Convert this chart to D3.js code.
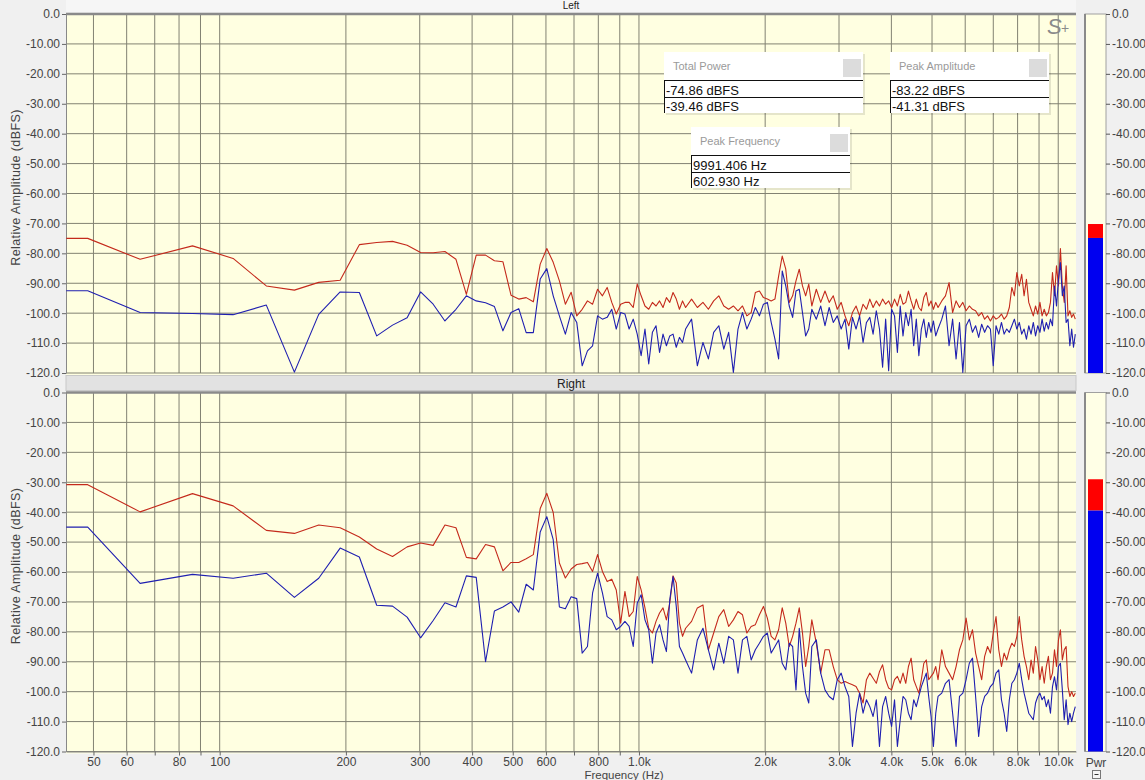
<!DOCTYPE html>
<html>
<head>
<meta charset="utf-8">
<script src="https://cdn.jsdelivr.net/npm/d3@7"></script>
<style>
  body { margin: 0; background: #f0f0f0; }
  svg text { font-family: Arial, "Liberation Sans", sans-serif; }
</style>
</head>
<body>
<div id="chart"></div>
<script>
var width = 1145, height = 780;
var BIN_HZ = 22050 / 1024;

// FFT bins that are drawn (every bin at the low end, thinned out higher up)
var bins = [2, 2.25].concat(d3.range(3, 61), d3.range(62, 121, 2), d3.range(123, 241, 3), d3.range(245, 511, 5));

// dBFS per bin
var leftRed = [
  -75, -75, -82, -77.5, -81.7, -90.9, -92.3, -89.7, -89, -77.1, -76.4, -76, -77.3, -79.7, -79.8, -79.4, -82,
  -93.7, -80.6, -80.6, -82.5, -82.8, -94, -95.3, -94.8, -96.2, -83.6, -78.4, -83, -89.2, -97, -93, -100.9,
  -98.7, -95.9, -97, -92, -94.2, -91.4, -96.4, -100.3, -97, -96.4, -96.4, -98.1, -90.3, -94.2, -97.6, -98.7,
  -96.4, -97.6, -95.9, -98.1, -94.8, -96.4, -93.1, -95.3, -98.7, -95.9, -98.1,
  -95.3, -98.1, -96.4, -98.7, -95.9, -94.2, -97.6, -98.7, -97.6, -99.2, -97.6, -100.9, -99.8, -93.1, -92.6,
  -94.8, -95.3, -95.9, -95.3, -87.6, -80.9, -85.3, -96.4, -94.2, -89.2, -85.3, -90.9, -94.2, -90.3, -97.6,
  -92, -96.4, -92.6, -96.4, -94.2, -98.7, -96.4, -100.9, -104.2, -99.8, -97.6, -100.9, -97, -98.7, -95.3,
  -98.1, -95.9, -97.6, -95.3, -97, -95.9, -98.1, -95.3, -97.6, -93.7, -97, -96.4, -92.6, -95.9, -98.7, -95.3,
  -98.1, -99.2, -94.8, -93.1, -97.6, -95.9, -98.7, -96.4, -98.1,
  -95.9, -94.2, -89.8, -99.8, -95.9, -98.1, -96.4, -99.2, -97.6, -98.7, -99.2, -100.9, -99.8, -102, -100.9,
  -102.6, -100.9, -102, -101.4, -100.3, -102, -100.9, -98.1, -91.4, -94.2, -86.4, -90.9, -87, -94.2, -88.7,
  -96.4, -98.7, -100.9, -97.6, -100.3, -96.4, -100.9, -98.7, -100.9, -99.8, -96.4, -86.4, -94.2, -84.2, -90.9,
  -78.4, -90.9, -96.4, -84.2, -100.9, -99.2, -101.4, -100.3, -102
];
var leftBlue = [
  -92.5, -92.5, -99.8, -100.1, -100.5, -97.3, -119.7, -100.4, -92.9, -93.1, -107.6, -104, -101.5, -92.9, -97,
  -102.6, -98.7, -94.2, -95.9, -96.5, -97.8, -105.9, -99.8, -98.5, -106.5, -106.5, -88.6, -85.1, -94.2, -100.9,
  -107, -99.8, -103.1,
  -117.6, -112.6, -110.9, -100.9, -102, -101.4, -98.7, -105.3, -99.8, -100.3, -105.3, -102, -107, -114.2,
  -105.3, -117, -106.4, -104.2, -113.1, -107, -110.9, -107.6, -107, -111.4, -108.1, -109.8, -105.3,
  -102, -117.6, -109.8, -115.3, -106.4, -104.2, -112, -106.4, -119.8, -105.3, -99.8, -105.3, -102, -98.1,
  -100.9, -97, -96.4, -103.1, -108.7, -115.3, -85.9, -90.9, -97.6, -101.4, -92.6, -92, -99.8, -107.6, -105.3, -98.7,
  -102, -97.6, -104.2, -98.1, -103.1, -100.9, -105.3, -102, -112, -101.4, -105.3, -100.9, -109.8, -103.1,
  -101.4, -107, -99.2, -105.3, -118.1, -102, -119.2, -98.7, -100.9, -113.1, -97.6, -107.6, -99.8, -104.2,
  -98.7, -110.9, -102, -114.2, -105.3, -102, -108.1, -103.1, -106.4, -102.6, -107.6, -105.3,
  -102, -97.6, -110.9, -102, -115.3, -103.1, -119.8, -104.2, -102, -106.4, -104.2, -108.1, -103.7, -106.4,
  -104.2, -105.3, -117.6, -104.2, -107, -103.1, -107, -105.3, -106.4, -104.2, -102, -105.3, -103.1, -107,
  -105.3, -108.7, -104.2, -107, -103.1, -107.6, -104.2, -106.4, -102, -106, -103.1, -105.3, -102, -104.2,
  -90.9, -97.6, -88.7, -83.1, -94.2, -90.9, -103.1, -102, -110.9, -105.3, -111.4, -107
];
var rightRed = [
  -30.8, -30.8, -39.9, -33.8, -37.9, -46.1, -47.1, -44.3, -45.2, -48.3, -52.3, -54.8, -51.6, -50.3, -51.1,
  -44.3, -45.2, -55.1, -55.6, -50.8, -51.6, -59.6, -56.8, -56.8, -55.6, -54.2, -38.8, -33.7, -40.1, -57,
  -62, -59, -57.5,
  -57.2, -56.8, -59.8, -54.2, -59.8, -63.2, -62.4, -66, -77.1, -66.5, -74.9, -73.2, -61.5, -66, -72, -78.8,
  -80.4, -76.5, -73.7, -72, -76, -70.4, -61.3, -63.7, -77.1, -81.5, -78.8,
  -76.5, -72, -71, -86, -80.4, -74.9, -72.6, -78.2, -76, -73.2, -74.3, -80.4, -78.2, -77.6, -74.3, -71.5,
  -75.4, -81.5, -82.7, -79.3, -72, -77.1, -84.9, -81.5, -77.1, -72, -80.4, -91.6, -84.9, -76,
  -83.8, -93.8, -86, -86, -91.6, -96, -97.2, -96.6, -97.2, -97.7, -98.3, -100.5, -103.8, -96, -93.8, -95.5,
  -97.2, -93.3, -91, -96, -98.8, -99.4, -96, -94.9, -97.2, -93.8, -97.2, -91.6, -88.8, -96, -98.3, -100.5,
  -96, -90.5, -89.4, -96, -94.9, -93.8, -91.6, -96,
  -86, -91.6, -93.8, -96, -91.6, -86, -82.7, -75.4, -82.7, -79.3, -87.1, -91.6, -96, -88.2, -84.9, -87.1,
  -80.4, -74.9, -86, -91.6, -87.1, -89.4, -86, -83.8, -84.9, -81.5, -74.9, -82.7, -88.2, -91.6, -96, -89.4,
  -93.8, -84.9, -89.4, -96, -91.6, -97.2, -91.6, -88.2, -96, -93.8, -86, -91.6, -82.7, -79.3, -89.4, -86,
  -84.9, -98.3, -101.6, -100, -101.6, -100.5
];
var rightBlue = [
  -45, -45, -63.8, -60.8, -62.1, -60.4, -68.5, -62.1, -52, -55, -71.1, -71.4, -75.1, -82, -76.2, -70.3, -71.7,
  -61.3, -61.8, -90, -73, -71.7, -70, -73.4, -64.1, -66, -46.6, -41.5, -49.2, -71.7, -72.3, -68.3, -68.9,
  -87.1, -84.9, -67, -60.4, -67, -74.9, -76, -79.3, -78.2, -76.5, -78.2, -84.9, -70.4, -67.6, -76, -79.3,
  -90.5, -80.4, -77.6, -82.7, -86.6, -69.3, -61.5, -71.5, -84.9, -87.1, -89.4,
  -93.8, -82.7, -78.8, -86, -92.7, -83.8, -90.5, -81.5, -82.7, -93.8, -82.7, -81.5, -89.4, -86, -83.8, -81.5,
  -80.4, -87.1, -84.9, -82.7, -90.5, -92.7, -83.8, -84.9, -99.4, -78.8, -91.6, -100.5, -103.8, -84.9,
  -82.7, -93.8, -99.4, -101.6, -102.7, -96, -93.8, -98.3, -101.6, -118.3, -107.2, -100.5, -107.2, -102.7,
  -105, -108.3, -102.7, -118.3, -105, -101.6, -107.2, -111.6, -102.7, -118.3, -109.4, -101.6, -102.7, -107.2,
  -109.4, -102.7, -105, -101.6, -98.3, -96, -93.8, -101.6, -108.3, -118.3, -107.2, -101.6,
  -100.5, -97.2, -96, -107.2, -118.3, -101.6, -100.5, -96, -90.5, -88.8, -101.6, -115, -105, -101.6, -100.5,
  -98.3, -97.2, -93.8, -92.7, -102.7, -107.2, -113.3, -102.7, -97.2, -96, -93.8, -90.5, -96, -100.5, -103.8,
  -107.2, -108.3, -109.4, -103.8, -101.6, -100.5, -102.7, -101.6, -105, -102.7, -107.2, -98.3, -95, -99.4,
  -91.6, -90.5, -99.4, -109.4, -102.7, -111, -107.2, -110, -107.2, -105
];

var dbTicks = d3.range(0, -121, -10);
var freqTicks = [50, 60, 70, 80, 90, 100, 200, 300, 400, 500, 600, 700, 800, 900,
                 1000, 2000, 3000, 4000, 5000, 6000, 7000, 8000, 9000, 10000];
var unlabeled = [70, 90, 700, 900, 7000, 9000];

var meterPeak = [-70.2, -29.0];
var meterPower = [-74.86, -39.46];

var statTitles = ["Total Power", "Peak Amplitude", "Peak Frequency"];
var statLeft = ["-74.86 dBFS", "-83.22 dBFS", "9991.406 Hz"];
var statRight = ["-39.46 dBFS", "-41.31 dBFS", "602.930 Hz"];

var svg = d3.select("#chart").append("svg")
    .attr("width", width)
    .attr("height", height)
    .style("display", "block");

svg.append("rect").attr("width", width).attr("height", height).attr("fill", "#f0f0f0");

var plotLeft = 66, plotRight = 1076;
var x = d3.scaleLog().domain([43, 11025]).range([plotLeft, plotRight]);

var fmtDb = function(v) {
    if (v === 0) return "0.0";
    return Math.abs(v) >= 100 ? v.toFixed(1) : v.toFixed(2);
};

var panels = [
    {name: "Left", top: 14, bottom: 373, red: leftRed, blue: leftBlue},
    {name: "Right", top: 392.5, bottom: 751.5, red: rightRed, blue: rightBlue}
];

// top title strip (mostly scrolled away)
svg.append("rect").attr("x", plotLeft).attr("y", 0).attr("width", plotRight - plotLeft).attr("height", 12)
    .attr("fill", "#f6f6f6");
svg.append("text").attr("x", 571).attr("y", 8.5).attr("text-anchor", "middle")
    .attr("font-size", 10).attr("fill", "#222").text("Left");

panels.forEach(function(p, pi) {
    var y = d3.scaleLinear().domain([0, -120]).range([p.top, p.bottom]);
    var g = svg.append("g");

    g.append("rect")
        .attr("x", plotLeft).attr("y", p.top)
        .attr("width", plotRight - plotLeft).attr("height", p.bottom - p.top + 2)
        .attr("fill", "#ffffe1");

    // grid
    g.selectAll(".vgrid").data(freqTicks).enter().append("line")
        .attr("x1", function(d){ return x(d); }).attr("x2", function(d){ return x(d); })
        .attr("y1", p.top).attr("y2", p.bottom)
        .attr("stroke", "#828272").attr("stroke-width", 1);
    g.selectAll(".hgrid").data(dbTicks).enter().append("line")
        .attr("x1", plotLeft).attr("x2", plotRight)
        .attr("y1", function(d){ return y(d); }).attr("y2", function(d){ return y(d); })
        .attr("stroke", "#828272").attr("stroke-width", 1);

    // top border
    g.append("line").attr("x1", plotLeft).attr("x2", plotRight)
        .attr("y1", p.top).attr("y2", p.top)
        .attr("stroke", "#8a8a8a").attr("stroke-width", 2.5);

    // y axis
    var yAxis = g.append("g")
        .attr("transform", "translate(" + plotLeft + ",0)")
        .call(d3.axisLeft(y).tickValues(dbTicks).tickFormat(fmtDb).tickSize(4).tickPadding(2).tickSizeOuter(0));
    yAxis.select(".domain").attr("stroke", "#888");
    yAxis.selectAll(".tick line").attr("stroke", "#666");
    yAxis.selectAll("text").attr("font-size", 12).attr("fill", "#444")
        .attr("font-family", "Arial, 'Liberation Sans', sans-serif");

    g.append("text")
        .attr("transform", "translate(20," + ((p.top + p.bottom) / 2 - 6) + ") rotate(-90)")
        .attr("text-anchor", "middle").attr("font-size", 12.5).attr("fill", "#444")
        .attr("letter-spacing", 0.4)
        .text("Relative Amplitude (dBFS)");

    // spectrum lines
    var clipId = "clip" + pi;
    svg.append("clipPath").attr("id", clipId).append("rect")
        .attr("x", plotLeft).attr("y", p.top).attr("width", plotRight - plotLeft).attr("height", p.bottom - p.top);
    var line = d3.line()
        .x(function(d){ return x(d.f); })
        .y(function(d){ return y(d.v); });
    [[p.red, "#c42a1c"], [p.blue, "#1f1fb0"]].forEach(function(s) {
        var pts = bins.map(function(b, i){ return {f: b * BIN_HZ, v: s[0][i]}; });
        g.append("path").datum(pts)
            .attr("clip-path", "url(#" + clipId + ")")
            .attr("d", line)
            .attr("fill", "none")
            .attr("stroke", s[1])
            .attr("stroke-width", 1.1)
            .attr("stroke-linejoin", "round");
    });

    // power meter
    var mx = 1085, mw = 21;
    g.append("rect").attr("x", mx).attr("y", p.top).attr("width", mw).attr("height", p.bottom - p.top)
        .attr("fill", "#ffffe6").attr("stroke", "#a0a0a0").attr("stroke-width", 1);
    g.append("line").attr("x1", mx).attr("x2", mx).attr("y1", p.top).attr("y2", p.bottom)
        .attr("stroke", "#8a8a8a").attr("stroke-width", 2);
    g.append("rect").attr("x", mx + 3).attr("y", y(meterPeak[pi]))
        .attr("width", mw - 6).attr("height", y(meterPower[pi]) - y(meterPeak[pi]))
        .attr("fill", "#ff0000");
    g.append("rect").attr("x", mx + 3).attr("y", y(meterPower[pi]))
        .attr("width", mw - 6).attr("height", p.bottom - y(meterPower[pi]))
        .attr("fill", "#0000f0");
    var meterAxis = g.append("g")
        .attr("transform", "translate(" + (mx + mw) + ",0)")
        .call(d3.axisRight(y).tickValues(dbTicks).tickFormat(fmtDb).tickSize(4).tickPadding(2));
    meterAxis.select(".domain").remove();
    meterAxis.selectAll(".tick line").attr("stroke", "#555");
    meterAxis.selectAll("text").attr("font-size", 12).attr("fill", "#444")
        .attr("font-family", "Arial, 'Liberation Sans', sans-serif");

    if (pi === 1) {
        // channel title bar between panels
        var bar = svg.append("g");
        bar.append("rect").attr("x", plotLeft).attr("y", 375.5).attr("width", plotRight - plotLeft).attr("height", 15)
            .attr("fill", "#e2e2e2").attr("stroke", "#c8c8c8");
        bar.append("text").attr("x", 571).attr("y", 387.5).attr("text-anchor", "middle")
            .attr("font-size", 12).attr("fill", "#222").text(p.name);

        var xAxis = g.append("g")
            .attr("transform", "translate(0," + p.bottom + ")")
            .call(d3.axisBottom(x).tickValues(freqTicks).tickSize(4).tickPadding(2).tickSizeOuter(0)
                .tickFormat(function(d){
                    if (unlabeled.indexOf(d) >= 0) return "";
                    return d >= 1000 ? (d / 1000).toFixed(1) + "k" : d;
                }));
        xAxis.select(".domain").attr("stroke", "#888");
        xAxis.selectAll(".tick line").attr("stroke", "#666");
        xAxis.selectAll("text").attr("font-size", 12).attr("fill", "#444")
            .attr("font-family", "Arial, 'Liberation Sans', sans-serif");

        svg.append("text").attr("x", 624).attr("y", 778.5).attr("text-anchor", "middle")
            .attr("font-size", 11.5).attr("fill", "#444").text("Frequency (Hz)");
        svg.append("text").attr("x", 1096).attr("y", 767).attr("text-anchor", "middle")
            .attr("font-size", 12).attr("fill", "#444").text("Pwr");
        svg.append("rect").attr("x", 1092.5).attr("y", 770.5).attr("width", 8).attr("height", 8)
            .attr("fill", "#f4f4f4").attr("stroke", "#777");
        svg.append("line").attr("x1", 1094.5).attr("x2", 1098.5).attr("y1", 774.5).attr("y2", 774.5)
            .attr("stroke", "#333");
    }
});

// S+ mark
svg.append("text").attr("x", 1047).attr("y", 34).attr("font-family", "'Liberation Serif', 'DejaVu Serif', serif")
    .attr("font-style", "italic").attr("font-size", 22).attr("fill", "#8a8a8a").text("S");
svg.append("text").attr("x", 1061).attr("y", 33).attr("font-family", "'Liberation Serif', 'DejaVu Serif', serif")
    .attr("font-size", 14).attr("fill", "#8a8a8a").text("+");

// statistics boxes
var boxes = [
    {x: 664, y: 52, w: 199},
    {x: 890, y: 52, w: 159},
    {x: 691, y: 127, w: 159}
];
boxes.forEach(function(b, i) {
    var g = svg.append("g").attr("transform", "translate(" + b.x + "," + b.y + ")");
    g.append("rect").attr("x", 2).attr("y", 2).attr("width", b.w).attr("height", 61).attr("fill", "rgba(0,0,0,0.10)");
    g.append("rect").attr("width", b.w).attr("height", 61).attr("fill", "#ffffff");
    g.append("text").attr("x", 9).attr("y", 18).attr("font-size", 11).attr("fill", "#9a9a9a").text(statTitles[i]);
    g.append("rect").attr("x", b.w - 20).attr("y", 7).attr("width", 18).attr("height", 18).attr("fill", "#dcdcdc");
    g.append("line").attr("x1", 0).attr("x2", b.w).attr("y1", 28.5).attr("y2", 28.5).attr("stroke", "#111");
    g.append("line").attr("x1", 0).attr("x2", b.w).attr("y1", 45.5).attr("y2", 45.5).attr("stroke", "#111");
    g.append("line").attr("x1", 0.5).attr("x2", 0.5).attr("y1", 28.5).attr("y2", 61).attr("stroke", "#111");
    g.append("text").attr("x", 2).attr("y", 43).attr("font-size", 13).attr("fill", "#111").text(statLeft[i]);
    g.append("text").attr("x", 2).attr("y", 59).attr("font-size", 13).attr("fill", "#111").text(statRight[i]);
});
</script>
</body>
</html>
